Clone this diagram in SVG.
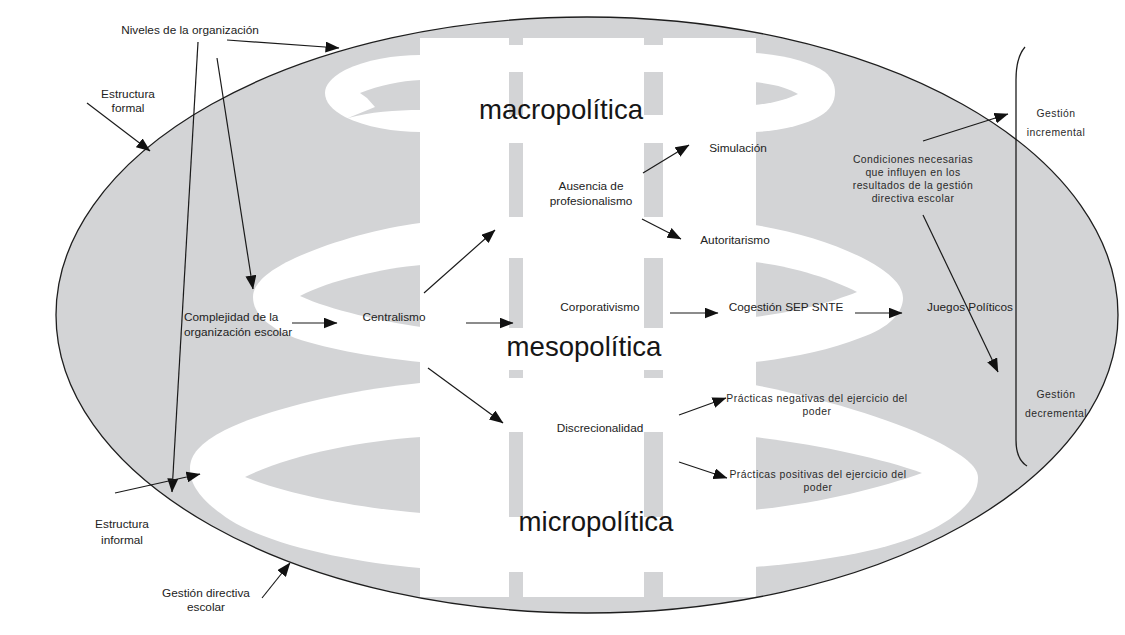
<svg xmlns="http://www.w3.org/2000/svg" width="1125" height="635" viewBox="0 0 1125 635">
<defs>
<style>
.bg{fill:#ffffff}
.gray{fill:#d3d4d6}
.white{fill:#ffffff}
.outline{fill:none;stroke:#1e1e1e;stroke-width:1.3}
.t{font-family:"Liberation Sans",Arial,sans-serif;font-size:11.8px;fill:#222;text-anchor:middle}
.ts{font-family:"Liberation Sans",Arial,sans-serif;font-size:10.4px;letter-spacing:0.45px;fill:#2a2a2a;text-anchor:middle}
.big{font-family:"Liberation Sans",Arial,sans-serif;font-size:27.6px;fill:#161616;text-anchor:middle}
.conn line,.conn path{stroke:#1a1a1a;stroke-width:1.2;fill:none}
.arr{marker-end:url(#ah)}
</style>
<marker id="ah" markerUnits="userSpaceOnUse" markerWidth="14" markerHeight="11" viewBox="0 0 14 11" refX="13.5" refY="5.5" orient="auto">
<path d="M0,0 L14,5.5 L0,11 Z" fill="#111"/>
</marker>
</defs>
<rect class="bg" x="0" y="0" width="1125" height="635"/>

<g id="scene">
<ellipse class="gray" cx="587" cy="315" rx="531" ry="298"/>
<!-- top ring -->
<path class="white" d="M420,55 C395,55 365,60 345,70 C330,78 325,86 325,93 C325,102 332,110 345,117 C365,127 395,132 420,132 Z"/>
<path class="gray" d="M421,80 C400,81 380,85 360,93 L367,98 L375,107 L348,118 C370,112 395,110 421,110 Z"/>
<path class="white" d="M755,53 C785,55 810,62 825,72 C832,78 835,85 835,92 C835,102 830,110 820,116 C805,125 780,131 755,132 Z"/>
<path class="gray" d="M754,82 C775,84 788,88 798,94 C788,99 775,103 754,105 Z"/>
<!-- middle ring -->
<path class="white" d="M420,223 C380,228 330,242 295,258 C265,272 253,285 253,297 C253,312 265,326 295,338 C330,350 380,358 420,362 Z"/>
<path class="gray" d="M421,265 C385,268 330,280 300,296 C330,310 385,322 421,327 Z"/>
<path class="white" d="M755,225 C800,232 850,248 880,268 C898,280 903,290 903,298 C903,312 890,328 860,338 C830,350 790,358 755,362 Z"/>
<path class="gray" d="M754,262 C790,266 830,278 857,292 C830,303 790,313 754,317 Z"/>
<!-- bottom ring -->
<path class="white" d="M420,383 C350,390 270,408 225,430 C200,443 190,455 190,468 C190,485 200,500 230,520 C270,545 350,562 420,568 Z"/>
<path class="gray" d="M421,437 C360,441 290,455 245,477 C290,495 360,508 421,513 Z"/>
<path class="white" d="M755,385 C830,400 900,422 940,443 C968,458 978,468 978,478 C978,500 955,520 920,535 C880,552 810,563 755,567 Z"/>
<path class="gray" d="M754,437 C820,445 880,458 922,473 C880,488 820,503 754,510 Z"/>
<!-- central column -->
<rect class="white" x="420" y="38" width="336" height="559"/>
<g class="gray">
<rect x="509" y="38" width="14" height="7"/>
<rect x="509" y="72" width="14" height="43"/>
<rect x="509" y="143" width="14" height="74"/>
<rect x="509" y="258" width="14" height="70"/>
<rect x="509" y="370" width="14" height="8"/>
<rect x="509" y="432" width="14" height="85"/>
<rect x="509" y="572" width="14" height="26"/>
<rect x="644" y="38" width="19" height="7"/>
<rect x="644" y="72" width="19" height="43"/>
<rect x="644" y="143" width="19" height="74"/>
<rect x="644" y="258" width="19" height="70"/>
<rect x="644" y="370" width="19" height="8"/>
<rect x="644" y="432" width="19" height="85"/>
<rect x="644" y="572" width="19" height="26"/>
</g>
<ellipse class="outline" cx="587" cy="315" rx="531" ry="298"/>
<path class="outline" d="M1025,47 C1018,55 1016,65 1016,80 L1016,440 C1016,453 1019,461 1027,466"/>
</g>

<g id="levels">
<text class="big" x="561" y="119">macropolítica</text>
<text class="big" x="584" y="356">mesopolítica</text>
<text class="big" x="596" y="531">micropolítica</text>
</g>

<g id="n-niveles"><text class="t" x="190" y="34">Niveles de la organización</text></g>
<g id="n-estructura-formal"><text class="t" x="128" y="98">Estructura</text><text class="t" x="128" y="112">formal</text></g>
<g id="n-estructura-informal"><text class="t" x="122" y="528">Estructura</text><text class="t" x="122" y="544">informal</text></g>
<g id="n-gestion-directiva"><text class="t" x="206" y="597">Gestión directiva</text><text class="t" x="206" y="611">escolar</text></g>
<g id="n-complejidad"><text class="t" x="184" y="321" style="text-anchor:start">Complejidad de la</text><text class="t" x="184" y="336" style="text-anchor:start">organización escolar</text></g>
<g id="n-centralismo"><text class="t" x="394" y="321">Centralismo</text></g>
<g id="n-ausencia"><text class="t" x="591" y="190">Ausencia de</text><text class="t" x="591" y="205">profesionalismo</text></g>
<g id="n-simulacion"><text class="t" x="738" y="152">Simulación</text></g>
<g id="n-autoritarismo"><text class="t" x="735" y="244">Autoritarismo</text></g>
<g id="n-corporativismo"><text class="t" x="600" y="311">Corporativismo</text></g>
<g id="n-cogestion"><text class="t" x="786" y="311">Cogestión SEP SNTE</text></g>
<g id="n-juegos"><text class="t" x="970" y="311">Juegos Políticos</text></g>
<g id="n-discrecionalidad"><text class="t" x="600" y="432">Discrecionalidad</text></g>
<g id="n-negativas"><text class="ts" x="817" y="402">Prácticas negativas del ejercicio del</text><text class="ts" x="817" y="415">poder</text></g>
<g id="n-positivas"><text class="ts" x="818" y="478">Prácticas positivas del ejercicio del</text><text class="ts" x="818" y="491">poder</text></g>
<g id="n-condiciones"><text class="ts" x="913" y="163">Condiciones necesarias</text><text class="ts" x="913" y="176">que influyen en los</text><text class="ts" x="913" y="189">resultados de la gestión</text><text class="ts" x="913" y="202">directiva escolar</text></g>
<g id="n-incremental"><text class="ts" x="1056" y="117">Gestión</text><text class="ts" x="1056" y="136">incremental</text></g>
<g id="n-decremental"><text class="ts" x="1056" y="398">Gestión</text><text class="ts" x="1056" y="417">decremental</text></g>

<g id="connectors" class="conn">
<line class="arr" x1="227" y1="40" x2="339" y2="48"/>
<line class="arr" x1="217" y1="58" x2="253" y2="289"/>
<line class="arr" x1="198" y1="42" x2="172" y2="492"/>
<line class="arr" x1="87" y1="103" x2="150" y2="151"/>
<line class="arr" x1="115" y1="493" x2="200" y2="474"/>
<line class="arr" x1="262" y1="598" x2="290" y2="563"/>
<line class="arr" x1="292" y1="323" x2="337" y2="323"/>
<line class="arr" x1="466" y1="323" x2="513" y2="323"/>
<line class="arr" x1="424" y1="293" x2="495" y2="230"/>
<line class="arr" x1="428" y1="368" x2="503" y2="423"/>
<line class="arr" x1="643" y1="173" x2="689" y2="145"/>
<line class="arr" x1="642" y1="219" x2="681" y2="239"/>
<line class="arr" x1="670" y1="313" x2="718" y2="313"/>
<line class="arr" x1="855" y1="313" x2="902" y2="313"/>
<line class="arr" x1="679" y1="415" x2="726" y2="398"/>
<line class="arr" x1="679" y1="462" x2="727" y2="478"/>
<line class="arr" x1="923" y1="141" x2="1008" y2="114"/>
<line class="arr" x1="923" y1="215" x2="998" y2="372"/>
</g>
</svg>
